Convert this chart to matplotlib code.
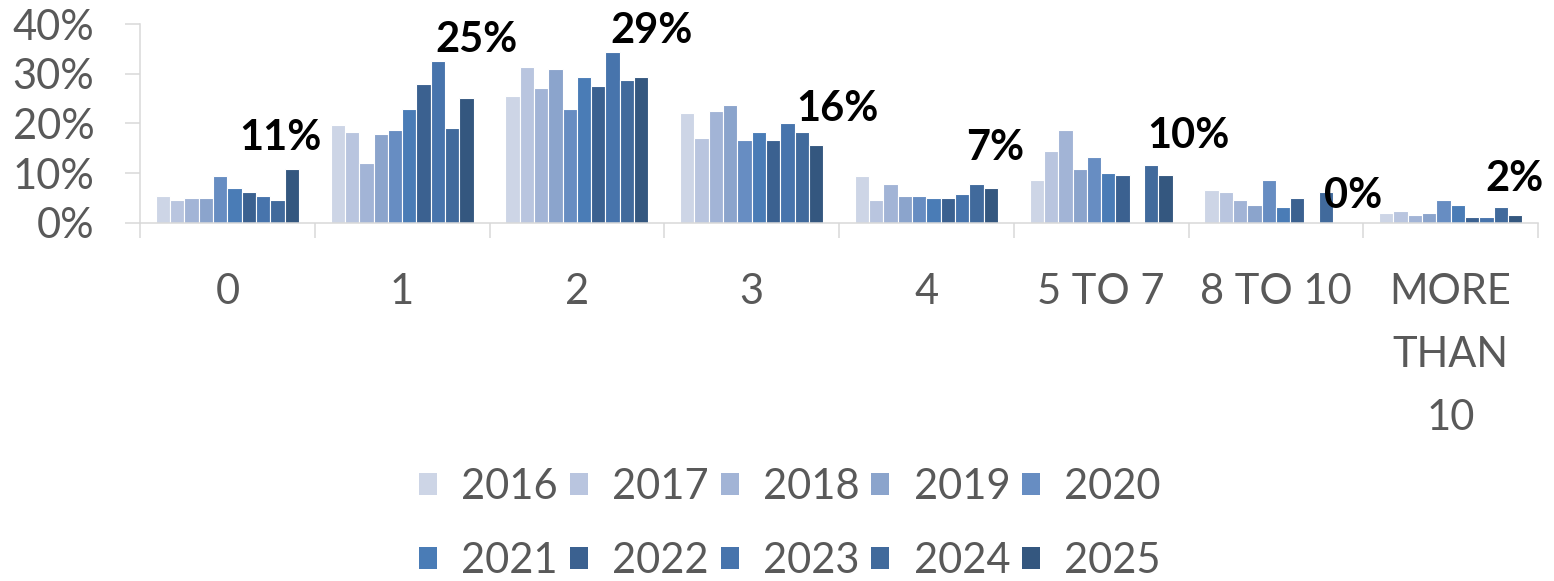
import numpy as np
import matplotlib
matplotlib.use("Agg")
import matplotlib.pyplot as plt
from matplotlib.patches import Patch

plt.rcParams['font.family'] = ['Lato', 'DejaVu Sans']

categories = ["0", "1", "2", "3", "4", "5 TO 7", "8 TO 10", "MORE\nTHAN\n10"]
years = ["2016", "2017", "2018", "2019", "2020", "2021", "2022", "2023", "2024", "2025"]

nan = np.nan
v2016 = [5.4, 19.7, 25.6, 22.1, 9.5, 8.7, 6.6, 2.0]
v2017 = [4.6, 18.3, 31.4, 17.1, 4.6, 14.5, 6.2, 2.4]
v2018 = [5.0, 12.1, 27.2, 22.6, 7.9, 18.7, 4.6, 1.6]
v2019 = [5.0, 17.9, 31.0, 23.8, 5.4, 10.9, 3.6, 2.0]
v2020 = [9.5, 18.7, 23.0, 16.7, 5.4, 13.3, 8.7, 4.6]
v2021 = [7.0, 23.0, 29.4, 18.3, 5.0, 10.1, 3.2, 3.6]
v2022 = [6.2, 28.0, 27.6, 16.7, 5.0, 9.7, 5.0, 1.2]
v2023 = [5.4, 32.6, 34.4, 20.1, 5.8, nan, nan, 1.2]
v2024 = [4.6, 19.1, 28.8, 18.3, 7.9, 11.7, 6.2, 3.2]
v2025 = [10.9, 25.2, 29.4, 15.6, 7.0, 9.7, 0.0, 1.6]
series = [v2016, v2017, v2018, v2019, v2020, v2021, v2022, v2023, v2024, v2025]

colors = ["#CDD5E6", "#B9C5DF", "#A2B4D6", "#8BA4CC", "#678DC2",
          "#4A7CB6", "#3B6190", "#4774AC", "#416A9C", "#34577F"]

yticks = [0, 10, 20, 30, 40]

# label offsets (pixels) relative to 2025 bar top
label_dx_px = [-11, 10, 10, 22, 4, 23, 13, 0]
label_dy_px = [19, 46, 34, 24, 28, 27, 15, 24]

TXT = "#595959"
AX = "#D9D9D9"
FS = 30

fig = plt.figure(figsize=(15.54, 5.81), dpi=100)
W, H = 1554, 581
ax = fig.add_axes([140 / W, (H - 223) / H, 1398 / W, 199 / H])

n = len(categories)
nser = len(series)
group_w = 0.818
slot = group_w / nser
centers = np.arange(n) + 0.5
for i, (vals, c) in enumerate(zip(series, colors)):
    x = centers - group_w / 2 + slot * (i + 0.5)
    ax.bar(x, vals, width=slot, color=c, edgecolor="white", linewidth=0.8, zorder=2)

# data labels for 2025
x25 = centers - group_w / 2 + slot * (nser - 0.5)
for j, v in enumerate(v2025):
    ax.annotate(f"{int(round(v))}%", (x25[j], v),
                xytext=(label_dx_px[j] * 0.72, label_dy_px[j] * 0.72),
                textcoords="offset points", ha="center", va="baseline",
                fontsize=FS, fontweight="bold", color="black", zorder=3)

ax.set_xlim(0, n)
ax.set_ylim(0, 40)
ax.set_yticks(yticks)
ax.set_yticklabels([f"{t}%" for t in yticks])
ax.set_xticks(centers)
ax.set_xticklabels(categories, linespacing=1.8)
ax.set_xticks(np.arange(n + 1), minor=True)

for s in ["top", "right"]:
    ax.spines[s].set_visible(False)
for s in ["left", "bottom"]:
    ax.spines[s].set_color(AX)
    ax.spines[s].set_linewidth(1.1)

ax.tick_params(axis="x", which="major", length=0, pad=36, labelsize=FS, labelcolor=TXT)
ax.tick_params(axis="x", which="minor", length=10.8, width=1.1, color=AX)
ax.tick_params(axis="y", which="major", length=10.8, width=1.1, color=AX, pad=22,
               labelsize=FS, labelcolor=TXT)

handles = [Patch(facecolor=c, edgecolor="none", label=y) for c, y in zip(colors, years)]
ncol = 5
# reorder so legend fills row by row
order = [r * ncol + c for c in range(ncol) for r in range(2)]
handles = [handles[k] for k in order]
leg = fig.legend(handles=handles, loc="center", bbox_to_anchor=(790 / W, (H - 524) / H),
                 ncol=ncol, frameon=False, fontsize=FS, handlelength=0.43, handleheight=0.43,
                 handletextpad=0.58, columnspacing=0.29, labelspacing=0.86, borderpad=0)
for t in leg.get_texts():
    t.set_color(TXT)

fig.savefig("out.png", dpi=100)
